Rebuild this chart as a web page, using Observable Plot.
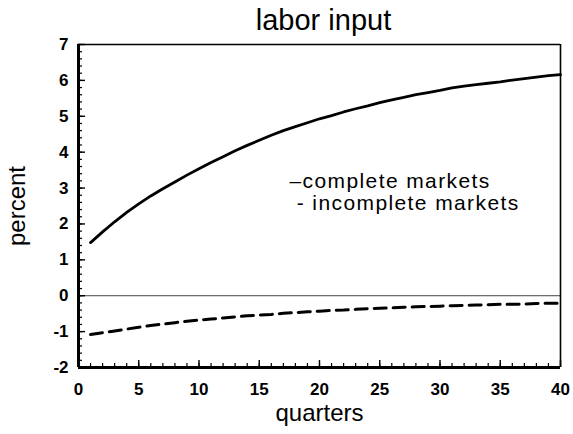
<!DOCTYPE html>
<html>
<head>
<meta charset="utf-8">
<script src="https://cdn.jsdelivr.net/npm/d3@7"></script>
<script src="https://cdn.jsdelivr.net/npm/@observablehq/plot@0.6"></script>
<style>
  body { margin: 0; background: #fff; }
  .legend text { letter-spacing: 1.4px; }
</style>
</head>
<body>
<div id="chart"></div>
<script>
// ---- data ----
const quarters = [1,2,3,4,5,6,7,8,9,10,11,12,13,14,15,16,17,18,19,20,
                  21,22,23,24,25,26,27,28,29,30,31,32,33,34,35,36,37,38,39,40];
const completeMarkets = [1.48,1.78,2.06,2.32,2.56,2.78,2.98,3.17,3.36,3.54,
                         3.71,3.87,4.04,4.19,4.33,4.47,4.60,4.71,4.82,4.93,
                         5.02,5.12,5.21,5.29,5.38,5.46,5.53,5.60,5.66,5.72,
                         5.79,5.84,5.88,5.92,5.96,6.01,6.05,6.09,6.13,6.16];
const incompleteMarkets = [-1.08,-1.03,-0.98,-0.93,-0.88,-0.83,-0.79,-0.75,-0.71,-0.68,
                           -0.65,-0.62,-0.59,-0.56,-0.54,-0.52,-0.49,-0.47,-0.45,-0.43,
                           -0.41,-0.40,-0.38,-0.36,-0.35,-0.34,-0.32,-0.31,-0.30,-0.29,
                           -0.28,-0.27,-0.26,-0.25,-0.24,-0.24,-0.23,-0.22,-0.21,-0.21];
const xMajorTicks = [0,5,10,15,20,25,30,35,40];
const xMinorTicks = d3.range(0, 41, 1);
const yMajorTicks = [-2,-1,0,1,2,3,4,5,6,7];
const yMinorTicks = d3.range(-2, 7.001, 0.2);
const titleText = "labor input";
const xLabel = "quarters";
const yLabel = "percent";
const legendLabels = ["\u2013complete markets", "\u00A0- incomplete markets"];

const complete = quarters.map((q, i) => ({q, v: completeMarkets[i]}));
const incomplete = quarters.map((q, i) => ({q, v: incompleteMarkets[i]}));

const font = "'Liberation Sans', Arial, Helvetica, sans-serif";

const W = 573, H = 434, mL = 78, mR = 13, mT = 44, mB = 67;
const plotW = W - mL - mR, plotH = H - mT - mB;
const minorLen = 4, majorLen = 7;

const chart = Plot.plot({
  width: W,
  height: H,
  marginLeft: mL,
  marginRight: mR,
  marginTop: mT,
  marginBottom: mB,
  style: {fontFamily: font, background: "#fff", color: "#000", overflow: "visible"},
  x: {domain: [0, 40]},
  y: {domain: [-2, 7]},
  marks: [
    // zero line
    Plot.ruleY([0], {stroke: "#444", strokeWidth: 1}),
    // series
    Plot.line(complete, {x: "q", y: "v", stroke: "#000", strokeWidth: 2.8}),
    Plot.line(incomplete, {x: "q", y: "v", stroke: "#000", strokeWidth: 3, strokeDasharray: "12,7"}),
    // inward ticks on bottom and left edges
    Plot.ruleX(xMinorTicks, {x: d => d, insetTop: plotH - minorLen, stroke: "#000", strokeWidth: 1.2}),
    Plot.ruleX(xMajorTicks, {x: d => d, insetTop: plotH - majorLen, stroke: "#000", strokeWidth: 1.4}),
    Plot.ruleY(yMinorTicks, {y: d => d, insetRight: plotW - minorLen, stroke: "#000", strokeWidth: 1.2}),
    Plot.ruleY(yMajorTicks, {y: d => d, insetRight: plotW - majorLen, stroke: "#000", strokeWidth: 1.4}),
    // frame
    Plot.ruleX([40], {stroke: "#000", strokeWidth: 1.6}),
    Plot.ruleY([7], {stroke: "#000", strokeWidth: 1.6}),
    Plot.ruleX([0], {stroke: "#000", strokeWidth: 3}),
    Plot.ruleY([-2], {stroke: "#000", strokeWidth: 3}),
    // tick labels
    Plot.axisX({ticks: xMajorTicks, tickSize: 0, tickPadding: 15, label: null,
                fontSize: 17, fontWeight: "bold", tickFormat: d => String(d)}),
    Plot.axisY({ticks: yMajorTicks, tickSize: 0, tickPadding: 10, label: null,
                fontSize: 17, fontWeight: "bold", tickFormat: d => String(d)}),
    // title
    Plot.text([titleText], {frameAnchor: "top", dx: 4, dy: -15, lineAnchor: "bottom",
                            fontSize: 29, fill: "#000"}),
    // axis labels
    Plot.text([xLabel], {frameAnchor: "bottom", dy: 53, lineAnchor: "bottom",
                         fontSize: 24, fill: "#000"}),
    Plot.text([yLabel], {frameAnchor: "left", dx: -54, rotate: -90, textAnchor: "middle",
                         lineAnchor: "bottom", fontSize: 24, fill: "#000"}),
    // legend (two lines in one text element)
    Plot.text([legendLabels.join("\n")], {frameAnchor: "top-left", dx: 211, dy: 128,
                                          textAnchor: "start", lineAnchor: "top", lineHeight: 1.05,
                                          fontSize: 21, fill: "#000", className: "legend"})
  ]
});
document.getElementById("chart").appendChild(chart);
</script>
</body>
</html>
